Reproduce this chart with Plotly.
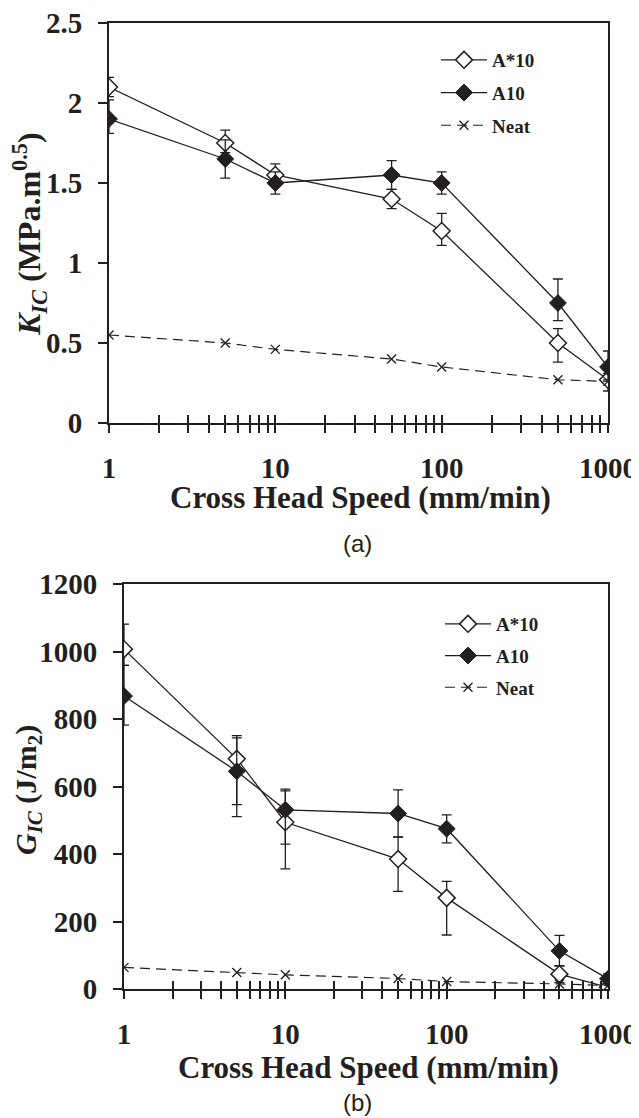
import plotly.graph_objects as go

# ---------------- data ----------------
speed = [1, 5, 10, 50, 100, 500, 1000]

# (a) K_IC
k_astar10 = [2.10, 1.75, 1.55, 1.40, 1.20, 0.50, 0.27]
k_astar10_ep = [0.06, 0.08, 0.07, 0.06, 0.11, 0.09, 0.04]
k_astar10_em = [0.06, 0.06, 0.07, 0.06, 0.09, 0.12, 0.07]
k_a10 = [1.90, 1.65, 1.50, 1.55, 1.50, 0.75, 0.35]
k_a10_ep = [0.12, 0.12, 0.07, 0.09, 0.07, 0.15, 0.10]
k_a10_em = [0.09, 0.12, 0.07, 0.09, 0.07, 0.11, 0.08]
k_neat = [0.55, 0.50, 0.46, 0.40, 0.35, 0.27, 0.26]

# (b) G_IC
g_astar10 = [1007, 682, 494, 385, 270, 44, 5]
g_astar10_ep = [74, 69, 98, 66, 49, 25, 10]
g_astar10_em = [48, 136, 138, 96, 110, 25, 5]
g_a10 = [868, 645, 531, 520, 475, 113, 30]
g_a10_ep = [91, 99, 56, 70, 41, 46, 15]
g_a10_em = [86, 134, 102, 70, 42, 45, 15]
g_neat = [64, 49, 42, 31, 22, 15, 10]

k_ticks = [0, 0.5, 1, 1.5, 2, 2.5]
k_ticktext = ["0", "0.5", "1", "1.5", "2", "2.5"]
g_ticks = [0, 200, 400, 600, 800, 1000, 1200]
x_major = [1, 10, 100, 1000]
x_minor = [m * 10 ** d for d in range(3) for m in range(2, 10)]

series_names = ["A*10", "A10", "Neat"]

# ---------------- style ----------------
OFF = 8                      # default page body margin
W, H = 639 - OFF, 1118 - OFF
SERIF = "Liberation Serif"
BLACK = "#231f20"

def px_x(p):
    return (p - OFF) / W

def px_y(p):
    return 1 - (p - OFF) / H

top_xdom = [px_x(109), px_x(608)]
top_ydom = [px_y(423), px_y(23)]
bot_xdom = [px_x(124), px_x(608)]
bot_ydom = [px_y(989), px_y(584)]

fig = go.Figure()

def add_panel(xa, xo, ya, leg, y1, e1p, e1m, y2, e2p, e2m, y3):
    err = lambda p, m: dict(type="data", array=p, arrayminus=m, symmetric=False,
                            color=BLACK, thickness=1.3, width=5)
    fig.add_trace(go.Scatter(
        x=speed, y=y3, name=series_names[2], mode="lines+markers",
        xaxis=xo, yaxis=ya, legend=leg, legendgroup=leg + "c", legendrank=3,
        line=dict(color=BLACK, width=1.2, dash="10px,6px"),
        marker=dict(symbol="x-thin", size=9, color=BLACK,
                    line=dict(color=BLACK, width=1.3))))
    fig.add_trace(go.Scatter(
        x=speed, y=y1, name=series_names[0], mode="lines+markers",
        xaxis=xa, yaxis=ya, legend=leg, legendgroup=leg + "a", legendrank=1,
        line=dict(color=BLACK, width=1.3),
        marker=dict(symbol="diamond", size=13, color="white",
                    line=dict(color=BLACK, width=1.5)),
        error_y=err(e1p, e1m)))
    fig.add_trace(go.Scatter(
        x=speed, y=y2, name=series_names[1], mode="lines+markers",
        xaxis=xa, yaxis=ya, legend=leg, legendgroup=leg + "b", legendrank=2,
        line=dict(color=BLACK, width=1.3),
        marker=dict(symbol="diamond", size=13, color=BLACK,
                    line=dict(color=BLACK, width=1)),
        error_y=err(e2p, e2m)))

add_panel("x", "x3", "y", "legend", k_astar10, k_astar10_ep, k_astar10_em,
          k_a10, k_a10_ep, k_a10_em, k_neat)
add_panel("x2", "x4", "y2", "legend2", g_astar10, g_astar10_ep, g_astar10_em,
          g_a10, g_a10_ep, g_a10_em, g_neat)

tickfont = dict(family=SERIF, size=29, color=BLACK, weight="bold")

xbase = dict(type="log", range=[0, 3], tickvals=x_major,
             ticktext=[str(v) for v in x_major],
             ticks="outside", ticklen=8, tickwidth=1.6, tickcolor=BLACK,
             minor=dict(tickvals=x_minor, ticks="outside", ticklen=8,
                        tickwidth=1.6, tickcolor=BLACK, showgrid=False),
             showline=True, linecolor=BLACK, linewidth=2, mirror=True,
             showgrid=False, zeroline=False, tickfont=tickfont,
             ticklabelstandoff=10, ticklabeloverflow="allow", automargin=False)
xover = dict(type="log", range=[0, 3], tickvals=x_major, ticks="inside",
             ticklen=8, tickwidth=1.6, tickcolor=BLACK, showticklabels=False,
             minor=dict(tickvals=x_minor, ticks="inside", ticklen=8,
                        tickwidth=1.6, tickcolor=BLACK, showgrid=False),
             showline=False, showgrid=False, zeroline=False, automargin=False)
ybase = dict(ticks="outside", ticklen=9, tickwidth=1.6, tickcolor=BLACK,
             showline=True, linecolor=BLACK, linewidth=2, mirror=True,
             showgrid=False, zeroline=False, tickfont=tickfont,
             ticklabelstandoff=10, ticklabeloverflow="allow", automargin=False)

legfont = dict(family=SERIF, size=19, color=BLACK, weight="bold")

fig.update_layout(
    width=W, height=H,
    margin=dict(l=0, r=0, t=0, b=0, autoexpand=False),
    paper_bgcolor="white", plot_bgcolor="white",
    xaxis=dict(xbase, domain=top_xdom, anchor="y"),
    yaxis=dict(ybase, domain=top_ydom, anchor="x", range=[0, 2.5],
               tickvals=k_ticks, ticktext=k_ticktext),
    xaxis2=dict(xbase, domain=bot_xdom, anchor="y2"),
    yaxis2=dict(ybase, domain=bot_ydom, anchor="x2", range=[0, 1200],
                tickvals=g_ticks),
    xaxis3=dict(xover, overlaying="x", anchor="y", domain=top_xdom),
    xaxis4=dict(xover, overlaying="x2", anchor="y2", domain=bot_xdom),
    legend=dict(x=px_x(436), y=px_y(41), xanchor="left", yanchor="top",
                bgcolor="rgba(0,0,0,0)", tracegroupgap=5, itemwidth=46,
                traceorder="grouped", font=legfont),
    legend2=dict(x=px_x(440), y=px_y(605), xanchor="left", yanchor="top",
                 bgcolor="rgba(0,0,0,0)", tracegroupgap=4, itemwidth=46,
                 traceorder="grouped", font=legfont),
    showlegend=True,
)

title_font = dict(family=SERIF, size=31, color=BLACK, weight="bold")
annots = [
    dict(text="<i>K</i><sub><i>IC</i></sub> (MPa.m<sup>0.5</sup>)",
         x=px_x(29), y=px_y(234), textangle=-90,
         font=dict(family=SERIF, size=32, color=BLACK, weight="bold")),
    dict(text="<i>G</i><sub><i>IC</i></sub> (J/m<sub>2</sub>)",
         x=px_x(28), y=px_y(790), textangle=-90,
         font=dict(family=SERIF, size=30, color=BLACK, weight="bold")),
    dict(text="Cross Head Speed (mm/min)", x=px_x(360), y=px_y(498),
         font=title_font),
    dict(text="Cross Head Speed (mm/min)", x=px_x(368), y=px_y(1067),
         font=title_font),
]
for a in annots:
    fig.add_annotation(xref="paper", yref="paper", showarrow=False,
                       xanchor="center", yanchor="middle", **a)

cap_font = dict(family="Liberation Sans", size=24, color=BLACK)
fig.add_annotation(text="(a)", x=px_x(357), y=px_y(543), xref="paper",
                   yref="paper", showarrow=False, font=cap_font)
fig.add_annotation(text="(b)", x=px_x(357), y=0, yanchor="bottom",
                   xref="paper", yref="paper", showarrow=False, font=cap_font)

fig.write_html("out.html")
